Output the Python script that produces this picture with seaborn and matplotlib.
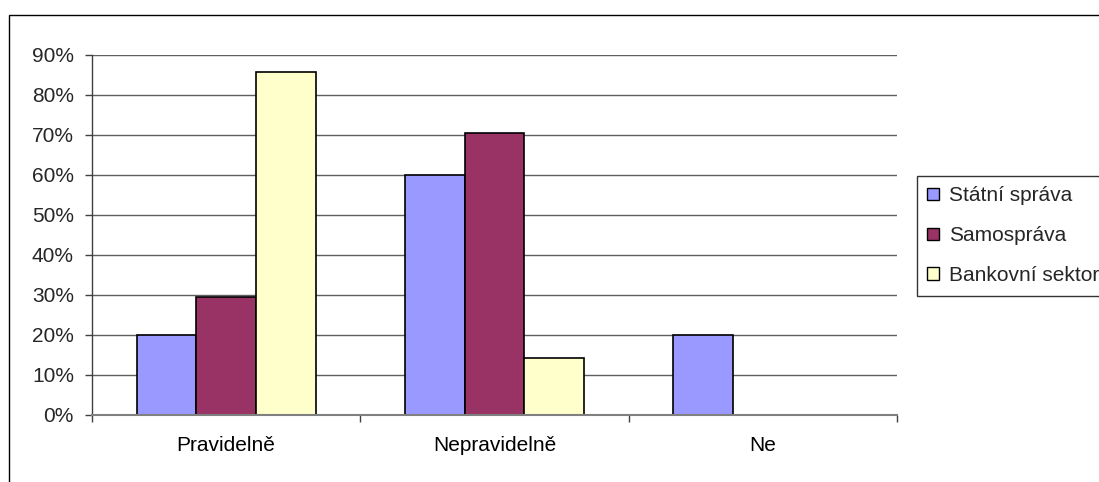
import matplotlib
matplotlib.use("Agg")
import matplotlib.pyplot as plt
from matplotlib.patches import Rectangle, Patch
from matplotlib.ticker import PercentFormatter, FixedLocator
import seaborn as sns
import pandas as pd

categories = ["Pravidelně", "Nepravidelně", "Ne"]
series_names = ["Státní správa", "Samospráva", "Bankovní sektor"]
statni_sprava = [20.0, 60.0, 20.0]
samosprava = [29.41, 70.59, 0.0]
bankovni_sektor = [85.71, 14.29, 0.0]
colors = ["#9999FF", "#993366", "#FFFFCC"]

rows = []
for name, vals in zip(series_names, [statni_sprava, samosprava, bankovni_sektor]):
    for cat, v in zip(categories, vals):
        rows.append({"kategorie": cat, "skupina": name, "podil": v})
df = pd.DataFrame(rows)

sns.set_theme(style="white")
plt.rcParams["font.family"] = ["Liberation Sans", "DejaVu Sans"]
FS = 15

fig = plt.figure(figsize=(10.99, 4.82), dpi=100)
ax = fig.add_axes([92 / 1099, 1 - 415 / 482, (897 - 92) / 1099, (415 - 55) / 482])

sns.barplot(data=df, x="kategorie", y="podil", hue="skupina", order=categories,
            hue_order=series_names, palette=colors, width=3 / 4.5,
            edgecolor="black", linewidth=1.2, saturation=1, ax=ax, legend=False)

ax.set_xlim(-0.5, 2.5)
ax.set_ylim(0, 90)
ax.yaxis.set_major_locator(FixedLocator(range(0, 91, 10)))
ax.yaxis.set_major_formatter(PercentFormatter(decimals=0))
ax.grid(axis="y", color="#606060", linewidth=1)
ax.set_axisbelow(True)
ax.set_xlabel("")
ax.set_ylabel("")

for side in ["top", "right"]:
    ax.spines[side].set_visible(False)
ax.spines["left"].set_color("#404040")
ax.spines["bottom"].set_color("#808080")
ax.spines["left"].set_linewidth(1)
ax.spines["bottom"].set_linewidth(1.5)

ax.xaxis.set_minor_locator(FixedLocator([-0.5, 0.5, 1.5, 2.5]))
ax.tick_params(axis="x", which="major", length=0, pad=15, labelsize=FS, colors="black")
ax.tick_params(axis="x", which="minor", length=5, width=1, color="#404040", bottom=True, direction="out")
ax.tick_params(axis="y", which="major", length=5, width=1, color="#404040", left=True,
               direction="out", labelsize=FS, pad=8)

handles = [Patch(facecolor=c, edgecolor="black", linewidth=1) for c in colors]
leg = fig.legend(handles, series_names, loc="upper left",
                 bbox_to_anchor=(917 / 1099, 1 - 176 / 482), bbox_transform=fig.transFigure,
                 frameon=True, fancybox=False, shadow=False, fontsize=FS,
                 handlelength=0.55, handleheight=0.55, handletextpad=0.5,
                 labelspacing=1.0, borderpad=0.5, borderaxespad=0)
leg.get_frame().set_edgecolor("black")
leg.get_frame().set_linewidth(1)

fig.patches.append(Rectangle((9 / 1099, -0.1), 1.2, 1 - 15 / 482 + 0.1,
                             transform=fig.transFigure, fill=False,
                             edgecolor="black", linewidth=1, zorder=-1))

fig.savefig("out.png", dpi=100)
